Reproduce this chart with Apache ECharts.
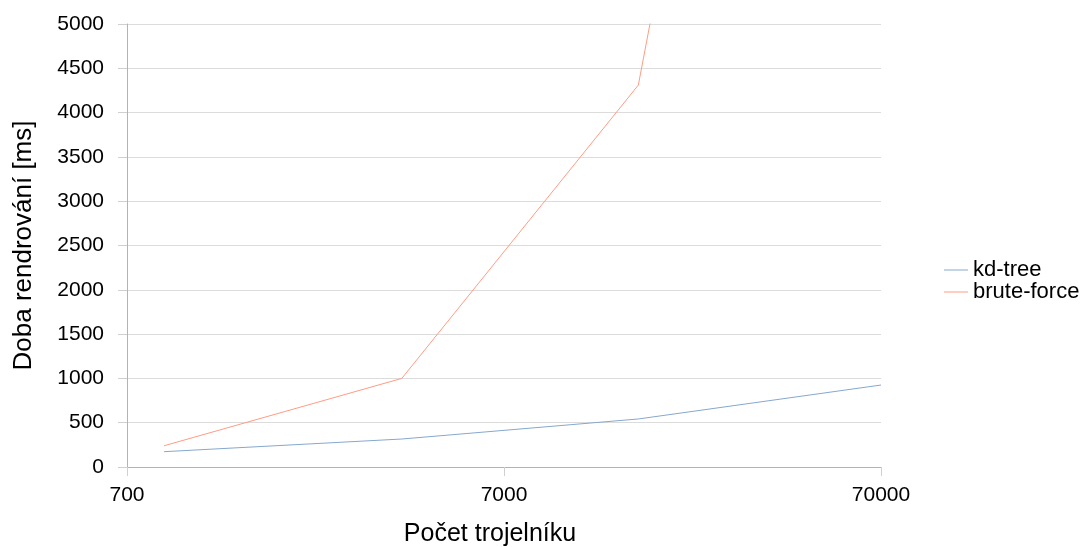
<!DOCTYPE html>
<html>
<head>
<meta charset="utf-8">
<script src="https://cdn.jsdelivr.net/npm/echarts@6/dist/echarts.min.js"></script>
<style>html,body{margin:0;padding:0;background:#fff;overflow:hidden}#c{width:1085px;height:547px}</style>
</head>
<body>
<div id="c"></div>
<script>
// Data
const triangleCounts = [878, 3750, 15900, 70000];
const kdTree = [173, 316, 542, 925];
const bruteForce = [240, 1000, 4310, 18700];
const xTickLabels = ['700', '7000', '70000'];
const seriesNames = ['kd-tree', 'brute-force'];

const X0 = 700;
const lx = v => Math.log10(v / X0); // log position relative to 700
const toPairs = (xs, ys) => xs.map((x, i) => [lx(x), ys[i]]);

const chart = echarts.init(document.getElementById('c'), null, {renderer: 'canvas', width: 1085, height: 547});
const font = 'Liberation Sans, Arial, sans-serif';
chart.setOption({
  animation: false,
  textStyle: {fontFamily: font},
  grid: {left: 127, width: 754, top: 24, height: 443, containLabel: false, outerBoundsMode: 'none'},
  legend: {
    orient: 'vertical', left: 939, top: 254, itemGap: 0,
    icon: 'rect', itemWidth: 24, itemHeight: 1,
    textStyle: {fontSize: 22, color: '#000', fontFamily: font},
    data: seriesNames
  },
  xAxis: {
    type: 'value', min: 0, max: 2, interval: 1,
    name: 'Počet trojelníku', nameLocation: 'middle', nameGap: 55,
    nameTextStyle: {fontSize: 25, color: '#000', fontFamily: font, padding: [0, 28, 0, 0]},
    axisLine: {show: true, lineStyle: {color: '#b3b3b3'}},
    axisTick: {show: true, length: 9, lineStyle: {color: '#d0d0d0'}},
    axisLabel: {fontSize: 21, color: '#000', margin: 18, fontFamily: font,
      formatter: v => xTickLabels[Math.round(v)] || ''},
    splitLine: {show: false}
  },
  yAxis: {
    type: 'value', min: 0, max: 5000, interval: 500,
    name: 'Doba rendrování [ms]', nameLocation: 'middle', nameGap: 90,
    nameTextStyle: {fontSize: 26, color: '#000', fontFamily: font},
    axisLine: {show: true, lineStyle: {color: '#b3b3b3'}},
    axisTick: {show: true, length: 9, lineStyle: {color: '#d0d0d0'}},
    axisLabel: {fontSize: 21, color: '#000', margin: 23, fontFamily: font,
      formatter: v => String(v)},
    splitLine: {show: true, lineStyle: {color: '#dcdcdc'}}
  },
  series: [
    {name: seriesNames[0], type: 'line', data: toPairs(triangleCounts, kdTree),
     showSymbol: false, clip: true, lineStyle: {width: 1, color: '#86a8cc'}, itemStyle: {color: '#86a8cc'}},
    {name: seriesNames[1], type: 'line', data: toPairs(triangleCounts, bruteForce),
     showSymbol: false, clip: true, lineStyle: {width: 1, color: '#ff9c85'}, itemStyle: {color: '#ff9c85'}}
  ]
});
</script>
</body>
</html>
